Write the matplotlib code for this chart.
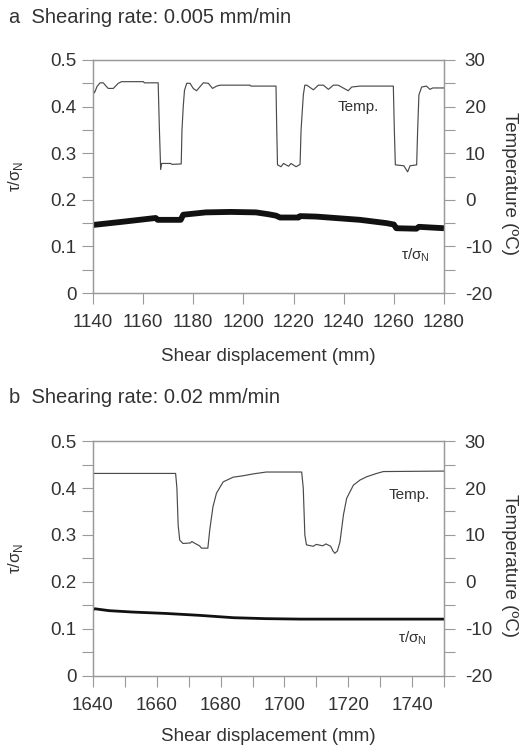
#!/usr/bin/env python3
"""Shear stress ratio and temperature against shear displacement, two rates."""

import matplotlib
matplotlib.use("Agg")
import matplotlib.pyplot as plt
from matplotlib.ticker import FuncFormatter, MultipleLocator


# panel a: shearing rate 0.005 mm/min
a_temp_x = [1140, 1140.4, 1140.8, 1141.6, 1142.8, 1144.1, 1145.2, 1146.1, 1148.1,
            1150.1, 1151.4, 1160.1, 1160.5, 1166.0, 1166.5, 1167.0, 1167.4, 1171.0,
            1171.5, 1175.2, 1175.5, 1176.0, 1176.5, 1177.4, 1178.7, 1180.0, 1181.3,
            1184.0, 1186.0, 1187.7, 1189.3, 1190.7, 1202.6, 1203.0, 1213.0, 1213.3,
            1213.6, 1215.0, 1216.0, 1218.0, 1219.0, 1221.0, 1222.6, 1223.0, 1223.9,
            1224.5, 1225.3, 1227.9, 1229.9, 1231.9, 1233.9, 1235.9, 1237.8, 1241.8,
            1243.2, 1246.5, 1259.8, 1260.2, 1260.6, 1264.0, 1265.5, 1266.5, 1269.1,
            1269.5, 1270.0, 1271.1, 1273.0, 1274.4, 1275.5, 1280]
a_temp = [24.0, 22.9, 23.2, 24.3, 25.1, 25.1, 24.4, 23.9, 23.9,
          25.0, 25.35, 25.35, 25.1, 25.1, 15.0, 6.5, 7.8, 7.8,
          7.6, 7.7, 15.0, 20.0, 23.5, 25.0, 25.0, 23.9, 23.4,
          25.1, 25.0, 23.9, 24.4, 24.6, 24.6, 24.4, 24.4, 15.0,
          7.5, 7.1, 7.8, 7.2, 7.8, 7.1, 7.6, 15.0, 22.5,
          24.6, 24.6, 23.6, 24.6, 24.6, 23.7, 24.6, 24.6, 23.4,
          24.2, 24.4, 24.4, 15.0, 7.5, 7.3, 6.0, 7.3, 7.5,
          15.0, 22.5, 24.2, 24.4, 23.7, 24.0, 24.0]
a_tau_x = [1140, 1152, 1165, 1165.8, 1175, 1176, 1185, 1195, 1205, 1210, 1213,
           1214.6, 1222, 1222.6, 1229, 1246.5, 1257, 1260, 1261, 1269, 1270, 1280]
a_tau = [0.146, 0.153, 0.161, 0.157, 0.157, 0.168, 0.173, 0.174, 0.173, 0.169, 0.166,
         0.162, 0.162, 0.165, 0.164, 0.157, 0.150, 0.147, 0.139, 0.138, 0.142, 0.139]

# panel b: shearing rate 0.02 mm/min
b_temp_x = [1640, 1665.9, 1666.3, 1666.7, 1667.2, 1668.2, 1670.5, 1671.0, 1672.0,
            1673.4, 1674.0, 1676.0, 1676.6, 1677.6, 1678.7, 1680.8, 1683.9, 1687.0,
            1690.2, 1694.3, 1705.4, 1705.9, 1706.4, 1706.9, 1709.0, 1710.0, 1712.0,
            1713.0, 1714.5, 1715.2, 1715.8, 1716.6, 1717.4, 1718.5, 1719.5, 1721.6,
            1723.7, 1725.8, 1728.9, 1731.0, 1750]
b_temp = [23.1, 23.1, 20.0, 12.0, 8.9, 8.2, 8.3, 8.6, 8.2,
          7.7, 7.2, 7.2, 11.1, 16.0, 18.9, 21.3, 22.3, 22.6,
          23.0, 23.4, 23.4, 20.0, 10.0, 7.9, 7.6, 8.0, 7.7,
          8.1, 7.6, 6.6, 6.1, 6.6, 8.5, 14.3, 17.8, 20.6,
          21.7, 22.4, 23.1, 23.5, 23.6]
b_tau_x = [1640, 1640.6, 1645, 1652.5, 1663, 1673.4, 1684, 1694, 1705, 1720, 1750]
b_tau = [0.141, 0.143, 0.139, 0.136, 0.133, 0.129, 0.124, 0.122, 0.121, 0.121, 0.121]

TAU_LABEL = r"τ/σ$_\mathregular{N}$"
GREY = "#9a9a9a"
INK = "#333333"


def style_axes(ax, ax2):
    for a in (ax, ax2):
        for sp in a.spines.values():
            sp.set_color(GREY)
            sp.set_linewidth(0.9)
    ax.tick_params(axis="both", which="both", direction="out", length=8, width=0.8,
                   color=GREY, labelcolor=INK, labelsize=13.5)
    ax.tick_params(axis="y", which="both", pad=4)
    ax.tick_params(axis="x", which="both", pad=7)
    ax2.tick_params(axis="y", which="both", direction="out", length=8, width=0.8,
                    color=GREY, labelcolor=INK, labelsize=13.5, pad=7)


def panel(fig, rect, tx, temp, sx, tau, tau_lw, xlim, minor_x, labels, xlab_y):
    ax = fig.add_axes(rect)
    ax2 = ax.twinx()

    ax.plot(sx, tau, color="#111111", lw=tau_lw, solid_capstyle="butt", zorder=3)
    ax2.plot(tx, temp, color="#4a4a4a", lw=0.85)

    ax.set_xlim(*xlim)
    ax.set_ylim(0, 0.5)
    ax2.set_ylim(-20, 30)
    ax.xaxis.set_major_locator(MultipleLocator(20))
    if minor_x:
        ax.xaxis.set_minor_locator(MultipleLocator(10))
    ax.yaxis.set_major_locator(MultipleLocator(0.1))
    ax.yaxis.set_minor_locator(MultipleLocator(0.05))
    ax.yaxis.set_major_formatter(FuncFormatter(lambda v, _: "0" if abs(v) < 1e-9 else f"{v:.1f}"))
    ax2.yaxis.set_major_locator(MultipleLocator(10))
    ax2.yaxis.set_minor_locator(MultipleLocator(5))
    style_axes(ax, ax2)

    ax.set_xlabel("Shear displacement (mm)", fontsize=13.5, color=INK)
    ax.xaxis.set_label_coords(0.5, xlab_y)
    ax.set_ylabel(TAU_LABEL, fontsize=12, color=INK)
    ax.yaxis.set_label_coords(-0.194, 0.5)
    ax2.set_ylabel("Temperature (ºC)", fontsize=13.5, color=INK, rotation=-90,
                   va="center", ha="center")
    ax2.yaxis.set_label_coords(1.188, 0.47)

    (temp_xy, tau_xy) = labels
    ax.text(*temp_xy, "Temp.", fontsize=11, color=INK, ha="center", va="center")
    ax.text(*tau_xy, TAU_LABEL, fontsize=11, color=INK, ha="center", va="center")
    return ax


def main():
    plt.rcParams.update({
        "font.family": ["Liberation Sans", "DejaVu Sans"],
        "axes.unicode_minus": False,
    })
    fig = plt.figure(figsize=(5.2, 7.49), dpi=100)

    fig.text(0.017, 0.977, "a  Shearing rate: 0.005 mm/min", fontsize=14.5,
             color=INK, ha="left", va="center")
    panel(fig, [0.1788, 0.6088, 0.675, 0.3111],
          a_temp_x, a_temp, a_tau_x, a_tau, 4.2, (1140, 1280), False,
          ((1245.7, 0.399), (1268.4, 0.082)), -0.236)

    fig.text(0.017, 0.469, "b  Shearing rate: 0.02 mm/min", fontsize=14.5,
             color=INK, ha="left", va="center")
    panel(fig, [0.1788, 0.0975, 0.675, 0.3137],
          b_temp_x, b_temp, b_tau_x, b_tau, 2.0, (1640, 1750), True,
          ((1739, 0.385), (1740, 0.081)), -0.221)

    fig.savefig("out.png", dpi=100)
    plt.close(fig)


if __name__ == "__main__":
    main()
